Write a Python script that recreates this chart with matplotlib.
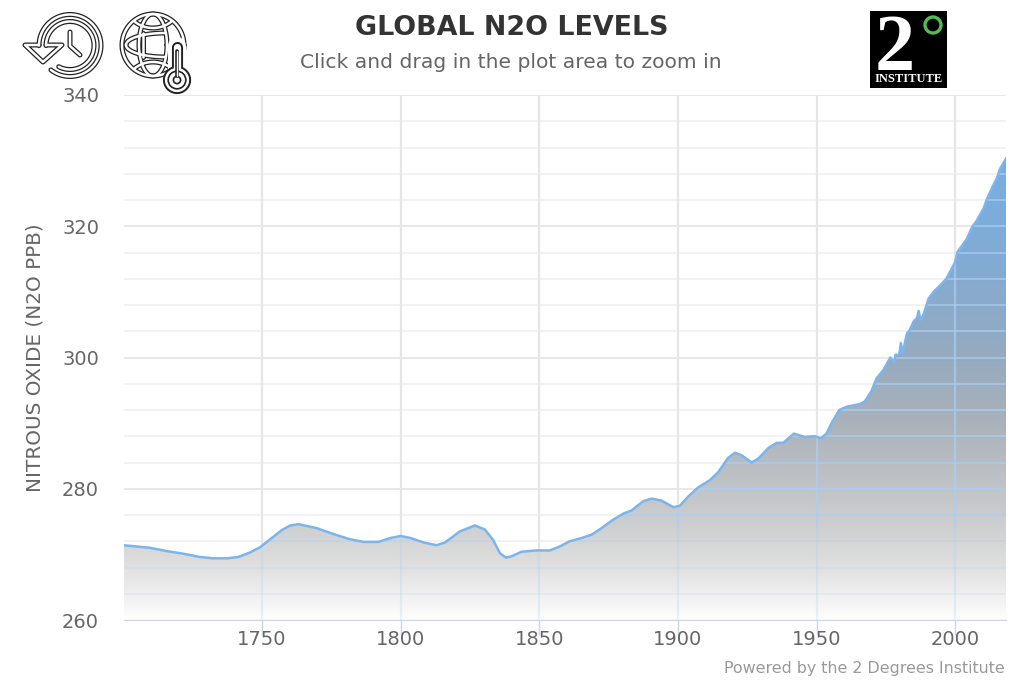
#!/usr/bin/env python3
# global N2O levels, area chart with gradient fill and header icons
import numpy as np
import matplotlib
matplotlib.use("Agg")
import matplotlib.pyplot as plt
from matplotlib.patches import Polygon, Rectangle, Circle

# --- data ---
years = [1700, 1709.7, 1715.7, 1721.7, 1727.7, 1732.5, 1737.3, 1741.5, 1745.8, 1749.4, 1753,
         1757.2, 1760.2, 1763.2, 1769.8, 1775.8, 1781.8, 1786.6, 1792, 1796.4, 1800, 1803.6,
         1808.4, 1813, 1816, 1821.4, 1826.8, 1830.4, 1833.4, 1835.8, 1838, 1840, 1843.6, 1849,
         1853.8, 1857.4, 1861, 1864.6, 1868.9, 1872.5, 1876.7, 1880.3, 1883.3, 1887.5, 1890.5,
         1894.1, 1898.3, 1900.7, 1903.7, 1907.3, 1911.5, 1914.5, 1918.1, 1920.6, 1923, 1926.6,
         1929, 1932.6, 1935.6, 1938, 1941.8, 1945.8, 1949.4, 1951.5, 1953.6, 1955.4, 1958.2,
         1960.9, 1965.6, 1967.4, 1969.8, 1971.6, 1974.1, 1976.6, 1978.1, 1978.4, 1979.8, 1980.4,
         1981, 1982.6, 1983.5, 1985, 1986.2, 1986.8, 1987.5, 1988.6, 1990.4, 1992.2, 1994.6,
         1996.8, 1998.8, 2000, 2000.8, 2002.4, 2004.2, 2006, 2007.8, 2010.2, 2011.4, 2013.2,
         2015, 2016.2, 2018.3]
n2o = [271.4, 271.0, 270.5, 270.1, 269.6, 269.4, 269.4, 269.6, 270.3, 271.1, 272.3,
       273.7, 274.4, 274.6, 274.0, 273.1, 272.3, 271.9, 271.9, 272.5, 272.8, 272.5,
       271.8, 271.4, 271.8, 273.5, 274.4, 273.8, 272.2, 270.2, 269.5, 269.7, 270.4, 270.6,
       270.6, 271.2, 272.0, 272.4, 273.0, 274.0, 275.3, 276.2, 276.7, 278.1, 278.5,
       278.2, 277.2, 277.4, 278.8, 280.2, 281.3, 282.5, 284.7, 285.5, 285.1, 284.0,
       284.6, 286.2, 287.0, 287.0, 288.4, 287.9, 288.0, 287.7, 288.4, 290.0, 292.0,
       292.5, 292.9, 293.3, 294.9, 296.8, 298.1, 300.0, 299.2, 300.4, 300.4, 302.2,
       300.6, 303.7, 304.1, 305.5, 306.0, 307.1, 305.7, 306.6, 309.0, 310.0, 311.0,
       312.0, 313.6, 314.6, 316.1, 317.0, 318.1, 319.8, 320.9, 322.7, 324.1, 325.8,
       327.3, 328.8, 330.3]
x_ticks = [1750, 1800, 1850, 1900, 1950, 2000]
y_ticks = [260, 280, 300, 320, 340]
y_minor = [v for v in range(260, 341, 4) if v not in y_ticks]
# gradient stops for the area, value -> colour
grad_vals = [260, 262, 268, 275, 290, 300, 315, 331]
grad_cols = ["#ffffff", "#f6f6f6", "#e0e0e0", "#cccdcf", "#aab2ba", "#96aabf", "#82abd4", "#78aee2"]

BLUE = "#7cb5ec"
TEXT = "#666666"
fig = plt.figure(figsize=(10.23, 6.82), dpi=100)
W, H = 1023.0, 682.0
ax = fig.add_axes([124 / W, 1 - 620 / H, 882 / W, 525 / H])

# --- grid sits under the area ---
for v in y_minor:
    ax.axhline(v, color="#f0f0f0", lw=1.2, zorder=1)
for v in y_ticks:
    ax.axhline(v, color="#e6e6e6", lw=1.3, zorder=1)
for v in x_ticks:
    ax.axvline(v, color="#e6e6e6", lw=1.6, zorder=1)

# --- gradient area, clipped to the curve ---
poly = Polygon(list(zip(years, n2o)) + [(years[-1], 260), (years[0], 260)], closed=True,
               transform=ax.transData, fc="none", ec="none")
ax.add_patch(poly)
rows = np.linspace(260, 331, 300)
rgb = np.array([matplotlib.colors.to_rgb(c) for c in grad_cols])
grad = np.stack([np.interp(rows, grad_vals, rgb[:, i]) for i in range(3)], axis=1)[:, None, :]
im = ax.imshow(grad, origin="lower", extent=(1700, 2018.3, 260, 331), aspect="auto", zorder=2)
ax.set_xlim(1700.3, 2018.3)
ax.set_ylim(260, 340)
im.set_clip_path(poly)

# the grid shows through the area as pale blue lines, fainter towards the bottom
for v in y_minor + y_ticks:
    a = 0.8 if v >= 276 else (0.4 if v >= 272 else 0.2)
    ln = ax.axhline(v, color="#a9cff5", lw=1.2, alpha=a, zorder=3)
    ln.set_clip_path(poly)
for v in x_ticks:
    ln = ax.vlines(v, 274, 340, color="#a9cff5", lw=1.6, alpha=0.7, zorder=3)
    ln.set_clip_path(poly)
    ln = ax.vlines(v, 260, 274, color="#a9cff5", lw=1.6, alpha=0.25, zorder=3)
    ln.set_clip_path(poly)

ax.plot(years, n2o, color=BLUE, lw=1.8, zorder=4, solid_joinstyle="round")

for s in ["top", "left", "right"]:
    ax.spines[s].set_visible(False)
ax.spines["bottom"].set_color("#ccd6eb")
ax.spines["bottom"].set_zorder(5)
ax.set_xticks(x_ticks)
ax.set_yticks(y_ticks)
ax.tick_params(axis="x", length=11, width=1, color="#ccd6eb", labelsize=14, labelcolor=TEXT, pad=-3.5)
ax.tick_params(axis="y", length=0, labelsize=14, labelcolor=TEXT, pad=18)
ax.set_ylabel("NITROUS OXIDE (N2O PPB)", fontsize=14.4, color=TEXT, va="center")
ax.yaxis.set_label_coords(-0.101, 0.5)

# --- header, drawn in pixel coordinates ---
ov = fig.add_axes([0, 0, 1, 1], facecolor="none")
ov.set_xlim(0, W)
ov.set_ylim(H, 0)
ov.axis("off")

ov.text(511.5, 28, "GLOBAL N2O LEVELS", ha="center", va="center", fontsize=19.4,
        fontweight="bold", color="#333333")
ov.text(510.5, 62, "Click and drag in the plot area to zoom in", ha="center", va="center",
        fontsize=14.6, color=TEXT)
ov.text(1005, 668, "Powered by the 2 Degrees Institute", ha="right", va="center",
        fontsize=11.4, color="#999999")


def strokes(paths, w=3.6, core=1.8, z=2):
    # double line icon look: all black strokes first, then the white cores over them
    for xs, ys in paths:
        ov.plot(xs, ys, color="#222222", lw=w, zorder=z, solid_capstyle="round", solid_joinstyle="round")
    for xs, ys in paths:
        ov.plot(xs, ys, color="white", lw=core, zorder=z + 0.5, solid_capstyle="round", solid_joinstyle="round")


def arc(cx, cy, rx, ry, a0, a1):
    t = np.radians(np.linspace(a0, a1, 120))
    return cx + rx * np.cos(t), cy + ry * np.sin(t)


# clock with return arrow
strokes([arc(70, 45.5, 31, 31, -180, 128),
         arc(70, 45.5, 24, 24, -180, 118),
         ([70, 70, 80], [32, 46, 55]),
         ([39, 25, 43, 62, 46], [45, 45, 62, 45, 45])])

# globe with thermometer
strokes([arc(153, 45, 31, 31, 0, 360),
         arc(153, 45, 14, 31, 0, 360),
         arc(165, 45, 39, 12, 180, 270),
         arc(165, 45, 39, 12, 90, 180),
         arc(153, 4, 27, 24, 47, 133),
         arc(153, 86, 27, 24, 227, 313),
         ([143, 143], [33, 57])])
ov.plot([177, 177], [46, 80], color="white", lw=13, zorder=4, solid_capstyle="round")
ov.add_patch(Circle((177, 80), 13, fc="white", ec="none", zorder=4))
strokes([([177, 177], [47, 74]), arc(177, 80, 8.5, 8.5, 0, 360)], w=8, core=5.2, z=5)
ov.add_patch(Circle((177, 80), 8, fc="white", ec="none", zorder=6))
ov.add_patch(Circle((177, 80), 8.8, fc="none", ec="#222222", lw=1.2, zorder=6))
ov.add_patch(Circle((177, 80), 3.6, fc="white", ec="#222222", lw=1.2, zorder=7))
strokes([([177, 177], [51, 76])], w=2.6, core=1.0, z=7)

# 2 degrees logo
ov.add_patch(Rectangle((870, 11), 77, 77, fc="black", ec="none"))
ov.text(895, 50, "2", ha="center", va="center", fontsize=58, color="white",
        family="Liberation Serif", fontweight="bold")
ov.add_patch(Circle((933, 25), 8, fc="none", ec="#55bb55", lw=2.4))
ov.text(908.5, 79, "INSTITUTE", ha="center", va="center", fontsize=9, color="white",
        family="Liberation Serif", fontweight="bold")

fig.savefig("out.png", dpi=100)
